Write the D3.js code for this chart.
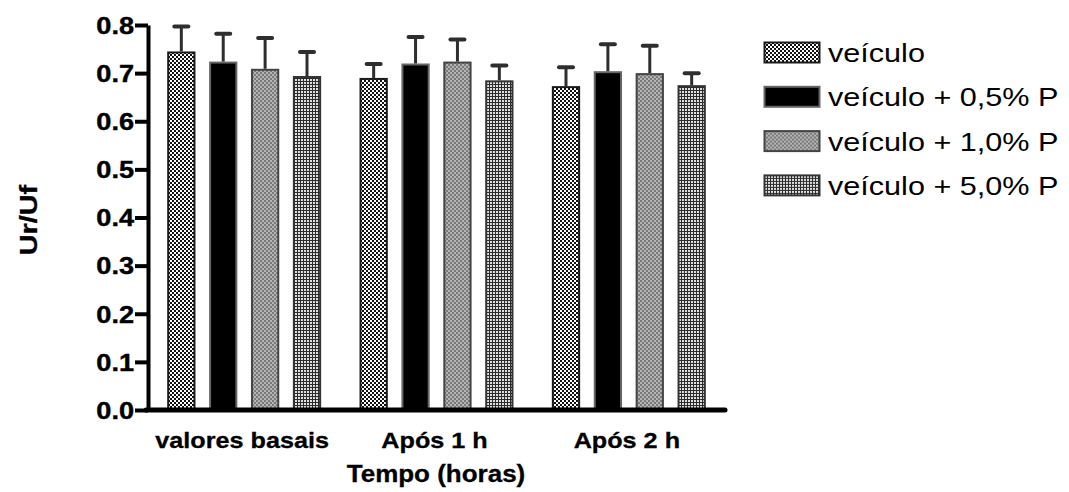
<!DOCTYPE html>
<html>
<head>
<meta charset="utf-8">
<script src="https://cdn.jsdelivr.net/npm/d3@7"></script>
<style>
  html, body { margin: 0; padding: 0; background: #fff; }
  svg { display: block; font-family: "Liberation Sans", Arial, sans-serif; }
</style>
</head>
<body>
<svg id="chart" width="1069" height="492"></svg>
<script>
// Time points (x categories)
const categories = ["valores basais", "Após 1 h", "Após 2 h"];
// Treatment series
const seriesNames = ["veículo", "veículo + 0,5% P", "veículo + 1,0% P", "veículo + 5,0% P"];
// Mean Ur/Uf per series, one value per time point
const veiculo   = [0.745, 0.690, 0.673];
const p05       = [0.724, 0.720, 0.704];
const p10       = [0.709, 0.724, 0.700];
const p50       = [0.694, 0.685, 0.675];
// Upper error (SD) per series
const errVeiculo = [0.052, 0.029, 0.039];
const errP05     = [0.058, 0.055, 0.056];
const errP10     = [0.064, 0.046, 0.057];
const errP50     = [0.050, 0.031, 0.025];
// Y axis ticks
const yTicks = [0.0, 0.1, 0.2, 0.3, 0.4, 0.5, 0.6, 0.7, 0.8];

const values = [veiculo, p05, p10, p50];
const errors = [errVeiculo, errP05, errP10, errP50];

const rows = [];
categories.forEach((c, ci) => {
  seriesNames.forEach((s, si) => {
    rows.push({ cat: c, series: s, si, value: values[si][ci], err: errors[si][ci] });
  });
});

const svg = d3.select("#chart");
const defs = svg.append("defs");

// Fill patterns for each series
function checker(id, size, bg, fg) {
  const p = defs.append("pattern").attr("id", id).attr("patternUnits", "userSpaceOnUse")
    .attr("width", size * 2).attr("height", size * 2);
  p.append("rect").attr("width", size * 2).attr("height", size * 2).attr("fill", bg);
  p.append("rect").attr("width", size).attr("height", size).attr("fill", fg);
  p.append("rect").attr("x", size).attr("y", size).attr("width", size).attr("height", size).attr("fill", fg);
}
checker("pat0", 2, "#ffffff", "#111111");
checker("pat2", 2, "#b4b4b4", "#7a7a7a");
(function grid() {
  const p = defs.append("pattern").attr("id", "pat3").attr("patternUnits", "userSpaceOnUse")
    .attr("width", 3).attr("height", 3);
  p.append("rect").attr("width", 3).attr("height", 3).attr("fill", "#2c2c2c");
  p.append("rect").attr("x", 1).attr("y", 1).attr("width", 2).attr("height", 2).attr("fill", "#e0e0e0");
})();

const fills   = ["url(#pat0)", "#000000", "url(#pat2)", "url(#pat3)"];
const strokes = ["#1a1a1a", "#666666", "#444444", "#333333"];

// Scales
const x0 = d3.scaleBand().domain(categories).range([148, 725]).paddingInner(0).paddingOuter(0);
const x1 = d3.scaleBand().domain(seriesNames).range([0, x0.bandwidth()]).paddingInner(0.325).paddingOuter(0.458);
const y = d3.scaleLinear().domain([0, 0.8]).range([410, 25]);

// Bars
const g = svg.append("g");
g.selectAll("rect.bar").data(rows).join("rect")
  .attr("class", "bar")
  .attr("x", d => x0(d.cat) + x1(d.series) + 1)
  .attr("y", d => y(d.value) + 1)
  .attr("width", x1.bandwidth() - 2)
  .attr("height", d => y(0) - y(d.value) - 1)
  .attr("fill", d => fills[d.si])
  .attr("stroke", d => strokes[d.si])
  .attr("stroke-width", 2);

// Error bars (upper only)
const eb = g.selectAll("g.err").data(rows).join("g").attr("class", "err");
eb.append("line")
  .attr("x1", d => x0(d.cat) + x1(d.series) + x1.bandwidth() / 2)
  .attr("x2", d => x0(d.cat) + x1(d.series) + x1.bandwidth() / 2)
  .attr("y1", d => y(d.value))
  .attr("y2", d => y(d.value + d.err))
  .attr("stroke", "#2e2e2e").attr("stroke-width", 3);
eb.append("line")
  .attr("x1", d => x0(d.cat) + x1(d.series) + x1.bandwidth() / 2 - 7)
  .attr("x2", d => x0(d.cat) + x1(d.series) + x1.bandwidth() / 2 + 7)
  .attr("y1", d => y(d.value + d.err))
  .attr("y2", d => y(d.value + d.err))
  .attr("stroke", "#2e2e2e").attr("stroke-width", 4).attr("stroke-linecap", "round");

// Y axis
const yAxis = svg.append("g").attr("transform", "translate(148,0)")
  .call(d3.axisLeft(y).tickValues(yTicks).tickFormat(d3.format(".1f")).tickSizeOuter(0).tickSizeInner(13).tickPadding(3));
yAxis.select(".domain").attr("stroke", "#000").attr("stroke-width", 4);
yAxis.selectAll(".tick line").attr("stroke", "#000").attr("stroke-width", 4);
yAxis.selectAll(".tick text")
  .attr("fill", "#000").attr("font-size", 23).attr("font-weight", "bold")
  .attr("stroke", "#000").attr("stroke-width", 0.4)
  .attr("font-family", "Liberation Sans, Arial, sans-serif")
  .attr("dy", "0.36em")
  .attr("transform", "scale(1.18,1)")
  .attr("x", -14 / 1.18);

// X axis line
svg.append("line").attr("x1", 146).attr("x2", 725).attr("y1", y(0)).attr("y2", y(0))
  .attr("stroke", "#000").attr("stroke-width", 5).attr("stroke-linecap", "round");

// Category labels
svg.selectAll("text.cat").data(categories).join("text")
  .attr("class", "cat")
  .attr("transform", d => `translate(${x0(d) + x0.bandwidth() / 2 - 2},448) scale(1.12,1)`)
  .attr("text-anchor", "middle").attr("font-size", 22.5).attr("font-weight", "bold")
  .attr("stroke", "#000").attr("stroke-width", 0.3)
  .text(d => d);

// Axis titles
svg.append("text")
  .attr("transform", "translate(436,482) scale(1.13,1)")
  .attr("text-anchor", "middle").attr("font-size", 23).attr("font-weight", "bold")
  .attr("stroke", "#000").attr("stroke-width", 0.3)
  .text("Tempo (horas)");
svg.append("text")
  .attr("transform", "translate(37,220) rotate(-90) scale(1.2,1)")
  .attr("text-anchor", "middle").attr("font-size", 24).attr("font-weight", "bold")
  .attr("stroke", "#000").attr("stroke-width", 0.3)
  .text("Ur/Uf");

// Legend
const leg = svg.selectAll("g.leg").data(seriesNames).join("g").attr("class", "leg")
  .attr("transform", (d, i) => `translate(764,${42 + i * 44.3})`);
leg.append("rect").attr("x", 0.5).attr("y", 0.5).attr("width", 55).attr("height", 20)
  .attr("fill", (d, i) => fills[i]).attr("stroke", (d, i) => strokes[i]).attr("stroke-width", 2);
leg.append("text")
  .attr("transform", "translate(64,20) scale(1.2,1)")
  .attr("font-size", 25.5)
  .attr("fill", "#000")
  .text(d => d);
</script>
</body>
</html>
